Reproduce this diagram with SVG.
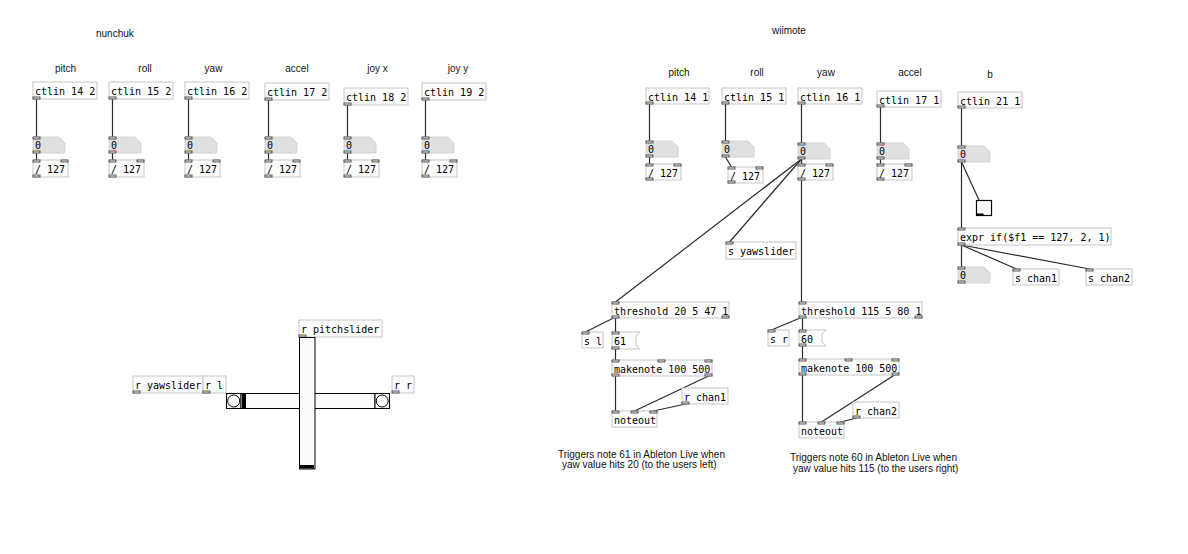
<svg xmlns="http://www.w3.org/2000/svg" width="1188" height="554" viewBox="0 0 1188 554">
<style>
.box{fill:#fcfcfc;stroke:#c6c6c6;stroke-width:1}
.num{fill:#e0e0e0;stroke:#d4d4d4;stroke-width:1}
.io{fill:#ececec;stroke:#333;stroke-width:0.8}
.t{font-family:"DejaVu Sans Mono","Liberation Mono",monospace;font-size:10px;fill:#000}
.lbl{font-family:"Liberation Sans",Arial,sans-serif;font-size:10px;fill:#111}
.c{stroke:#2a2a2a;stroke-width:1.2;fill:none}
.gui{fill:#fcfcfc;stroke:#000;stroke-width:1}
.knob{fill:#000}
</style>
<rect width="1188" height="554" fill="#fff"/>

<g id="labels">
<text class="lbl" x="96" y="36.5">nunchuk</text>
<text class="lbl" x="65.5" y="71.5" text-anchor="middle">pitch</text>
<text class="lbl" x="145" y="71.5" text-anchor="middle">roll</text>
<text class="lbl" x="213.5" y="71.5" text-anchor="middle">yaw</text>
<text class="lbl" x="297" y="71.5" text-anchor="middle">accel</text>
<text class="lbl" x="377.5" y="71.5" text-anchor="middle">joy x</text>
<text class="lbl" x="458" y="71.5" text-anchor="middle">joy y</text>
<text class="lbl" x="772" y="33.5">wiimote</text>
<text class="lbl" x="679" y="75.5" text-anchor="middle">pitch</text>
<text class="lbl" x="757" y="75.5" text-anchor="middle">roll</text>
<text class="lbl" x="826" y="75.5" text-anchor="middle">yaw</text>
<text class="lbl" x="910" y="75.5" text-anchor="middle">accel</text>
<text class="lbl" x="990" y="77.5" text-anchor="middle">b</text>
<text class="lbl" x="558" y="458">Triggers note 61 in Ableton Live when</text>
<text class="lbl" x="562" y="468">yaw value hits 20 (to the users left)</text>
<text class="lbl" x="790" y="460.5">Triggers note 60 in Ableton Live when</text>
<text class="lbl" x="793" y="471.5">yaw value hits 115 (to the users right)</text>
</g>

<g id="connectors">
<!-- nunchuk -->
<path class="c" d="M36.5 99V137M36.5 153V160"/>
<path class="c" d="M112.5 99V137M112.5 153V160"/>
<path class="c" d="M188.5 99V137M188.5 153V160"/>
<path class="c" d="M268.5 100V137M268.5 153V160"/>
<path class="c" d="M347.5 105V137M347.5 153V160"/>
<path class="c" d="M425.5 100V137M425.5 153V160"/>
<!-- wiimote -->
<path class="c" d="M649.5 104V141M649.5 157V164"/>
<path class="c" d="M725.5 104V141M725.5 157L731.5 167"/>
<path class="c" d="M801.5 104V143M801.5 159V164"/>
<path class="c" d="M801.5 159L615.5 302"/>
<path class="c" d="M801.5 159L729.5 242"/>
<path class="c" d="M801.5 159V302"/>
<path class="c" d="M880.5 107V143M880.5 159V164"/>
<path class="c" d="M961.5 108V146M961.5 162V228"/>
<path class="c" d="M961.5 162L979 200"/>
<path class="c" d="M961.5 245V267"/>
<path class="c" d="M961.5 245L1016.5 269"/>
<path class="c" d="M961.5 245L1089.5 269"/>
<!-- left threshold chain -->
<path class="c" d="M615.5 317L585.5 332"/>
<path class="c" d="M615.5 317V332M615.5 349V360M615.5 376V411"/>
<path class="c" d="M708.5 376L634.5 411"/>
<path class="c" d="M685.5 404L653.5 411"/>
<!-- right threshold chain -->
<path class="c" d="M802.5 317L771.5 330"/>
<path class="c" d="M802.5 317V330M802.5 345V359M802.5 375V422"/>
<path class="c" d="M894.5 375L821.5 422"/>
<path class="c" d="M856.5 418L840.5 422"/>
</g>

<!-- ===== nunchuk ===== -->
<g id="n-ctlin14"><rect class="box" x="33" y="82" width="64" height="17"/><text class="t" x="35" y="95">ctlin 14 2</text><rect class="io" x="33" y="97" width="7" height="2"/></g>
<g id="n-num14"><polygon class="num" points="33,137 59,137 65,143 65,153 33,153"/><text class="t" x="35" y="149">0</text><rect class="io" x="33" y="137" width="7" height="2"/><rect class="io" x="33" y="151" width="7" height="2"/></g>
<g id="n-div14"><rect class="box" x="33" y="160" width="35" height="17"/><text class="t" x="35" y="173">/ 127</text><rect class="io" x="33" y="160" width="7" height="2"/><rect class="io" x="61" y="160" width="7" height="2"/><rect class="io" x="33" y="175" width="7" height="2"/></g>

<g id="n-ctlin15"><rect class="box" x="109" y="82" width="64" height="17"/><text class="t" x="111" y="95">ctlin 15 2</text><rect class="io" x="109" y="97" width="7" height="2"/></g>
<g id="n-num15"><polygon class="num" points="109,137 135,137 141,143 141,153 109,153"/><text class="t" x="111" y="149">0</text><rect class="io" x="109" y="137" width="7" height="2"/><rect class="io" x="109" y="151" width="7" height="2"/></g>
<g id="n-div15"><rect class="box" x="109" y="160" width="35" height="17"/><text class="t" x="111" y="173">/ 127</text><rect class="io" x="109" y="160" width="7" height="2"/><rect class="io" x="137" y="160" width="7" height="2"/><rect class="io" x="109" y="175" width="7" height="2"/></g>

<g id="n-ctlin16"><rect class="box" x="185" y="82" width="64" height="17"/><text class="t" x="187" y="95">ctlin 16 2</text><rect class="io" x="185" y="97" width="7" height="2"/></g>
<g id="n-num16"><polygon class="num" points="185,137 211,137 217,143 217,153 185,153"/><text class="t" x="187" y="149">0</text><rect class="io" x="185" y="137" width="7" height="2"/><rect class="io" x="185" y="151" width="7" height="2"/></g>
<g id="n-div16"><rect class="box" x="185" y="160" width="35" height="17"/><text class="t" x="187" y="173">/ 127</text><rect class="io" x="185" y="160" width="7" height="2"/><rect class="io" x="213" y="160" width="7" height="2"/><rect class="io" x="185" y="175" width="7" height="2"/></g>

<g id="n-ctlin17"><rect class="box" x="265" y="83" width="64" height="17"/><text class="t" x="267" y="96">ctlin 17 2</text><rect class="io" x="265" y="98" width="7" height="2"/></g>
<g id="n-num17"><polygon class="num" points="265,137 291,137 297,143 297,153 265,153"/><text class="t" x="267" y="149">0</text><rect class="io" x="265" y="137" width="7" height="2"/><rect class="io" x="265" y="151" width="7" height="2"/></g>
<g id="n-div17"><rect class="box" x="265" y="160" width="35" height="17"/><text class="t" x="267" y="173">/ 127</text><rect class="io" x="265" y="160" width="7" height="2"/><rect class="io" x="293" y="160" width="7" height="2"/><rect class="io" x="265" y="175" width="7" height="2"/></g>

<g id="n-ctlin18"><rect class="box" x="344" y="88" width="64" height="17"/><text class="t" x="346" y="101">ctlin 18 2</text><rect class="io" x="344" y="103" width="7" height="2"/></g>
<g id="n-num18"><polygon class="num" points="344,137 370,137 376,143 376,153 344,153"/><text class="t" x="346" y="149">0</text><rect class="io" x="344" y="137" width="7" height="2"/><rect class="io" x="344" y="151" width="7" height="2"/></g>
<g id="n-div18"><rect class="box" x="344" y="160" width="35" height="17"/><text class="t" x="346" y="173">/ 127</text><rect class="io" x="344" y="160" width="7" height="2"/><rect class="io" x="372" y="160" width="7" height="2"/><rect class="io" x="344" y="175" width="7" height="2"/></g>

<g id="n-ctlin19"><rect class="box" x="422" y="83" width="64" height="17"/><text class="t" x="424" y="96">ctlin 19 2</text><rect class="io" x="422" y="98" width="7" height="2"/></g>
<g id="n-num19"><polygon class="num" points="422,137 448,137 454,143 454,153 422,153"/><text class="t" x="424" y="149">0</text><rect class="io" x="422" y="137" width="7" height="2"/><rect class="io" x="422" y="151" width="7" height="2"/></g>
<g id="n-div19"><rect class="box" x="422" y="160" width="35" height="17"/><text class="t" x="424" y="173">/ 127</text><rect class="io" x="422" y="160" width="7" height="2"/><rect class="io" x="450" y="160" width="7" height="2"/><rect class="io" x="422" y="175" width="7" height="2"/></g>

<!-- ===== wiimote ===== -->
<g id="w-ctlin14"><rect class="box" x="646" y="88" width="63" height="16"/><text class="t" x="648" y="100.5">ctlin 14 1</text><rect class="io" x="646" y="102" width="7" height="2"/></g>
<g id="w-num14"><polygon class="num" points="646,141 672,141 678,147 678,157 646,157"/><text class="t" x="648" y="153">0</text><rect class="io" x="646" y="141" width="7" height="2"/><rect class="io" x="646" y="155" width="7" height="2"/></g>
<g id="w-div14"><rect class="box" x="646" y="164" width="35" height="16"/><text class="t" x="648" y="176.5">/ 127</text><rect class="io" x="646" y="164" width="7" height="2"/><rect class="io" x="674" y="164" width="7" height="2"/><rect class="io" x="646" y="178" width="7" height="2"/></g>

<g id="w-ctlin15"><rect class="box" x="722" y="88" width="64" height="16"/><text class="t" x="724" y="100.5">ctlin 15 1</text><rect class="io" x="722" y="102" width="7" height="2"/></g>
<g id="w-num15"><polygon class="num" points="722,141 748,141 754,147 754,157 722,157"/><text class="t" x="724" y="153">0</text><rect class="io" x="722" y="141" width="7" height="2"/><rect class="io" x="722" y="155" width="7" height="2"/></g>
<g id="w-div15"><rect class="box" x="728" y="167" width="35" height="16"/><text class="t" x="730" y="179.5">/ 127</text><rect class="io" x="728" y="167" width="7" height="2"/><rect class="io" x="756" y="167" width="7" height="2"/><rect class="io" x="728" y="181" width="7" height="2"/></g>

<g id="w-ctlin16"><rect class="box" x="798" y="88" width="64" height="16"/><text class="t" x="800" y="100.5">ctlin 16 1</text><rect class="io" x="798" y="102" width="7" height="2"/></g>
<g id="w-num16"><polygon class="num" points="798,143 824,143 830,149 830,159 798,159"/><text class="t" x="800" y="155">0</text><rect class="io" x="798" y="143" width="7" height="2"/><rect class="io" x="798" y="157" width="7" height="2"/></g>
<g id="w-div16"><rect class="box" x="798" y="164" width="35" height="16"/><text class="t" x="800" y="176.5">/ 127</text><rect class="io" x="798" y="164" width="7" height="2"/><rect class="io" x="826" y="164" width="7" height="2"/><rect class="io" x="798" y="178" width="7" height="2"/></g>

<g id="w-ctlin17"><rect class="box" x="877" y="91" width="64" height="16"/><text class="t" x="879" y="103.5">ctlin 17 1</text><rect class="io" x="877" y="105" width="7" height="2"/></g>
<g id="w-num17"><polygon class="num" points="877,143 903,143 909,149 909,159 877,159"/><text class="t" x="879" y="155">0</text><rect class="io" x="877" y="143" width="7" height="2"/><rect class="io" x="877" y="157" width="7" height="2"/></g>
<g id="w-div17"><rect class="box" x="877" y="164" width="35" height="16"/><text class="t" x="879" y="176.5">/ 127</text><rect class="io" x="877" y="164" width="7" height="2"/><rect class="io" x="905" y="164" width="7" height="2"/><rect class="io" x="877" y="178" width="7" height="2"/></g>

<g id="w-ctlin21"><rect class="box" x="958" y="92" width="64" height="16"/><text class="t" x="960" y="104.5">ctlin 21 1</text><rect class="io" x="958" y="106" width="7" height="2"/></g>
<g id="w-num21"><polygon class="num" points="958,146 984,146 990,152 990,162 958,162"/><text class="t" x="960" y="158">0</text><rect class="io" x="958" y="146" width="7" height="2"/><rect class="io" x="958" y="160" width="7" height="2"/></g>
<g id="w-toggle"><rect x="976.5" y="200.5" width="15" height="15" fill="#fcfcfc" stroke="#000" stroke-width="1.2"/><rect x="976.5" y="213.5" width="7" height="2" fill="#000"/></g>
<g id="w-expr"><rect class="box" x="958" y="228" width="153" height="17"/><text class="t" x="960" y="241">expr if($f1 == 127, 2, 1)</text><rect class="io" x="958" y="228" width="7" height="2"/><rect class="io" x="958" y="243" width="7" height="2"/></g>
<g id="w-numout"><polygon class="num" points="958,267 984,267 990,273 990,283 958,283"/><text class="t" x="960" y="279">0</text><rect class="io" x="958" y="267" width="7" height="2"/><rect class="io" x="958" y="281" width="7" height="2"/></g>
<g id="w-schan1"><rect class="box" x="1013" y="269" width="46" height="16"/><text class="t" x="1015" y="281.5">s chan1</text><rect class="io" x="1013" y="269" width="7" height="2"/></g>
<g id="w-schan2"><rect class="box" x="1086" y="269" width="46" height="16"/><text class="t" x="1088" y="281.5">s chan2</text><rect class="io" x="1086" y="269" width="7" height="2"/></g>

<g id="w-syawslider"><rect class="box" x="726" y="242" width="70" height="17"/><text class="t" x="728" y="255">s yawslider</text><rect class="io" x="726" y="242" width="7" height="2"/></g>

<!-- left threshold chain -->
<g id="thr20"><rect class="box" x="612" y="302" width="117" height="16"/><text class="t" x="614" y="314.5">threshold 20 5 47 1</text><rect class="io" x="612" y="302" width="7" height="2"/><rect class="io" x="612" y="316" width="7" height="2"/><rect class="io" x="722" y="316" width="7" height="2"/></g>
<g id="sl"><rect class="box" x="582" y="332" width="21" height="16"/><text class="t" x="584" y="344.5">s l</text><rect class="io" x="582" y="332" width="7" height="2"/></g>
<g id="msg61"><polygon class="box" points="612,332 640,332 636,336 636,345 640,349 612,349"/><text class="t" x="614" y="344.5">61</text><rect class="io" x="612" y="332" width="7" height="2"/><rect class="io" x="612" y="347" width="7" height="2"/></g>
<g id="mk1"><rect class="box" x="612" y="360" width="100" height="16"/><text class="t" x="614" y="372.5">makenote 100 500</text><rect class="io" x="612" y="360" width="7" height="2"/><rect class="io" x="658" y="360" width="7" height="2"/><rect class="io" x="705" y="360" width="7" height="2"/><rect class="io" x="612" y="374" width="7" height="2"/><rect class="io" x="705" y="374" width="7" height="2"/></g>
<g id="rchan1"><rect class="box" x="682" y="388" width="46" height="16"/><text class="t" x="684" y="400.5">r chan1</text><rect class="io" x="682" y="402" width="7" height="2"/></g>
<g id="noteout1"><rect class="box" x="612" y="411" width="45" height="16"/><text class="t" x="614" y="423.5">noteout</text><rect class="io" x="612" y="411" width="7" height="2"/><rect class="io" x="631" y="411" width="7" height="2"/><rect class="io" x="650" y="411" width="7" height="2"/></g>

<!-- right threshold chain -->
<g id="thr115"><rect class="box" x="799" y="302" width="123" height="16"/><text class="t" x="801" y="314.5">threshold 115 5 80 1</text><rect class="io" x="799" y="302" width="7" height="2"/><rect class="io" x="799" y="316" width="7" height="2"/><rect class="io" x="915" y="316" width="7" height="2"/></g>
<g id="sr"><rect class="box" x="768" y="330" width="21" height="16"/><text class="t" x="770" y="342.5">s r</text><rect class="io" x="768" y="330" width="7" height="2"/></g>
<g id="msg60"><polygon class="box" points="799,330 826,330 822,334 822,342 826,346 799,346"/><text class="t" x="801" y="342.5">60</text><rect class="io" x="799" y="330" width="7" height="2"/><rect class="io" x="799" y="344" width="7" height="2"/></g>
<g id="mk2"><rect class="box" x="799" y="359" width="100" height="16"/><text class="t" x="801" y="371.5">makenote 100 500</text><rect class="io" x="799" y="359" width="7" height="2"/><rect class="io" x="845" y="359" width="7" height="2"/><rect class="io" x="892" y="359" width="7" height="2"/><rect class="io" x="799" y="373" width="7" height="2"/><rect class="io" x="892" y="373" width="7" height="2"/></g>
<g id="rchan2"><rect class="box" x="853" y="402" width="46" height="16"/><text class="t" x="855" y="414.5">r chan2</text><rect class="io" x="853" y="416" width="7" height="2"/></g>
<g id="noteout2"><rect class="box" x="799" y="422" width="45" height="16"/><text class="t" x="801" y="434.5">noteout</text><rect class="io" x="799" y="422" width="7" height="2"/><rect class="io" x="818" y="422" width="7" height="2"/><rect class="io" x="837" y="422" width="7" height="2"/></g>

<!-- ===== sliders ===== -->
<g id="r-yawslider"><rect class="box" x="133" y="376" width="70" height="17"/><text class="t" x="135" y="389">r yawslider</text><rect class="io" x="133" y="391" width="7" height="2"/></g>
<g id="r-l"><rect class="box" x="203" y="376" width="23" height="17"/><text class="t" x="205" y="389">r l</text><rect class="io" x="203" y="391" width="7" height="2"/></g>
<g id="r-r"><rect class="box" x="392" y="376" width="22" height="17"/><text class="t" x="394" y="389">r r</text><rect class="io" x="392" y="391" width="7" height="2"/></g>
<g id="bng-left"><rect class="gui" x="226.5" y="393.5" width="14.5" height="15"/><circle cx="233.7" cy="401" r="6" fill="#fff" stroke="#000" stroke-width="1"/></g>
<g id="hslider"><rect class="gui" x="241" y="393.5" width="134" height="15"/><rect class="knob" x="242" y="394" width="4" height="14"/></g>
<g id="bng-right"><rect class="gui" x="375" y="393.5" width="14.5" height="15"/><circle cx="382.2" cy="401" r="6" fill="#fff" stroke="#000" stroke-width="1"/></g>
<g id="r-pitchslider"><rect class="box" x="299" y="320" width="83" height="17"/><text class="t" x="301" y="333">r pitchslider</text><rect class="io" x="299" y="335" width="7" height="2"/></g>
<g id="vslider"><rect class="gui" x="299.5" y="337.5" width="15.5" height="131.5"/><rect class="knob" x="300" y="465" width="14" height="3.5"/></g>
</svg>
